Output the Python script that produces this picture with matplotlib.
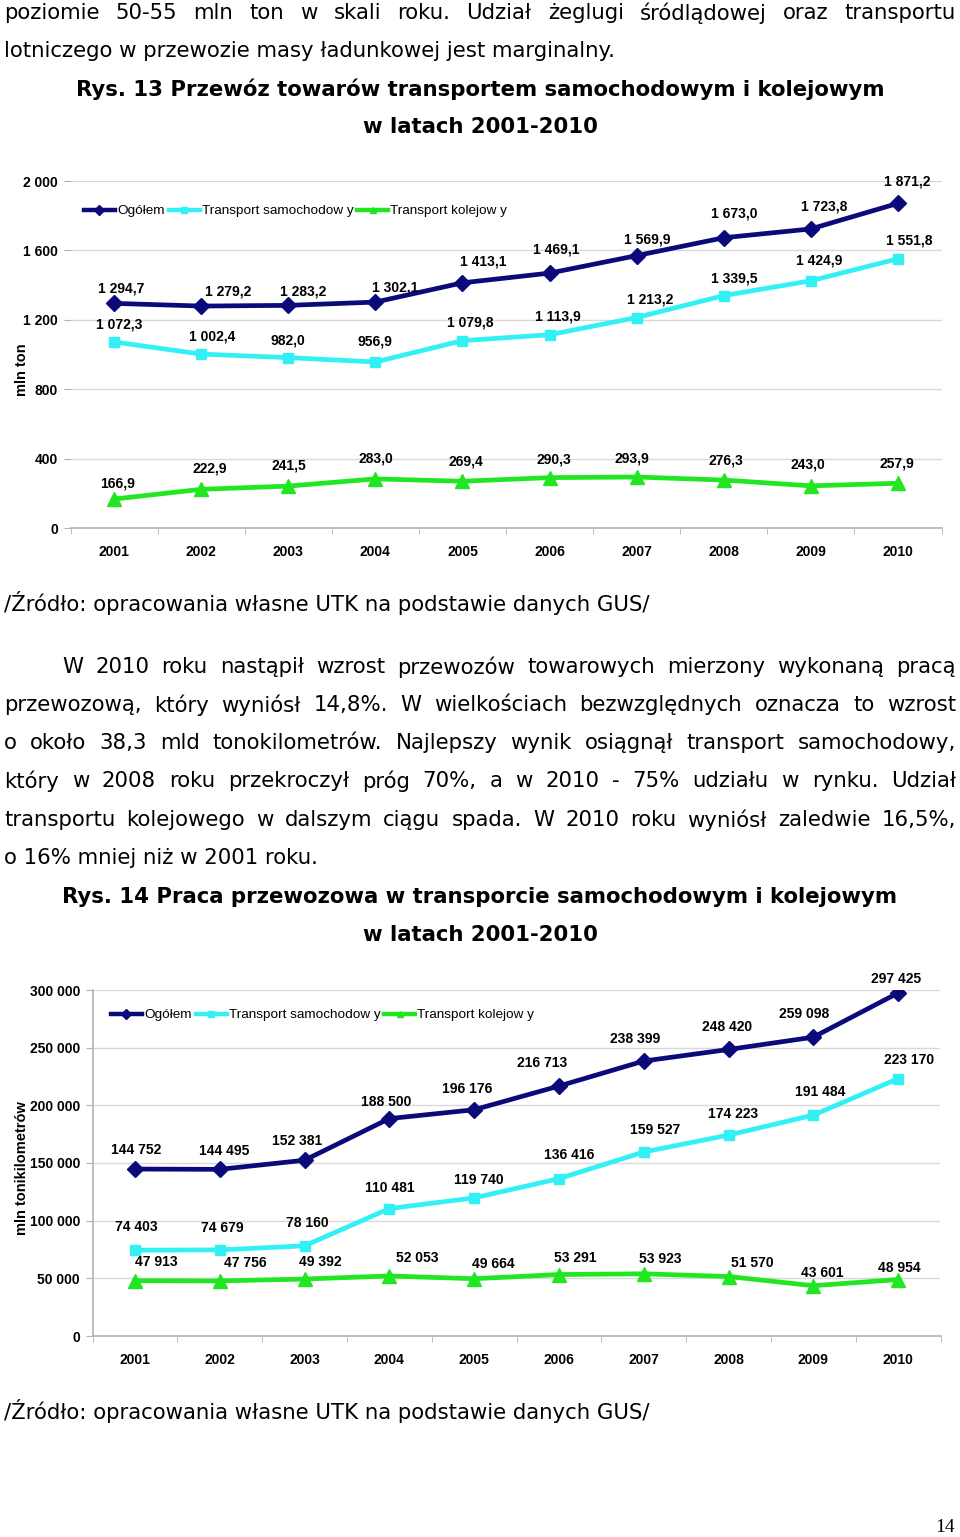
import matplotlib
matplotlib.use("Agg")
import matplotlib.pyplot as plt
from matplotlib.lines import Line2D
from matplotlib.ticker import FixedLocator

W, H = 960, 1537

# --- data -------------------------------------------------------------
years = ['2001', '2002', '2003', '2004', '2005', '2006', '2007', '2008', '2009', '2010']

# Rys. 13 - przewoz (mln ton)
mass_total = [1294.7, 1279.2, 1283.2, 1302.1, 1413.1, 1469.1, 1569.9, 1673.0, 1723.8, 1871.2]
mass_road = [1072.3, 1002.4, 982.0, 956.9, 1079.8, 1113.9, 1213.2, 1339.5, 1424.9, 1551.8]
mass_rail = [166.9, 222.9, 241.5, 283.0, 269.4, 290.3, 293.9, 276.3, 243.0, 257.9]

# Rys. 14 - praca przewozowa (mln tkm)
work_total = [144752, 144495, 152381, 188500, 196176, 216713, 238399, 248420, 259098, 297425]
work_road = [74403, 74679, 78160, 110481, 119740, 136416, 159527, 174223, 191484, 223170]
work_rail = [47913, 47756, 49392, 52053, 49664, 53291, 53923, 51570, 43601, 48954]

series_names = ['Ogółem', 'Transport samochodow y', 'Transport kolejow y']

# label offsets in pixels (dx right, dy down) - hand placed like in excel
mass_total_off = [(7, -15), (27, -15), (15, -14), (20, -15), (21, -21), (7, -24), (11, -16), (10, -24), (13, -22), (9, -22)]
mass_road_off = [(5, -17), (11, -18), (0, -17), (0, -20), (8, -18), (8, -18), (13, -18), (10, -17), (8, -20), (11, -18)]
mass_rail_off = [(4, -16), (9, -21), (1, -21), (1, -20), (3, -20), (4, -18), (-5, -19), (2, -20), (-3, -21), (-1, -20)]
work_total_off = [(1, -19), (4, -18), (-7, -19), (-3, -17), (-7, -21), (-17, -23), (-9, -22), (-1, -22), (-9, -23), (-2, -14)]
work_road_off = [(1, -23), (3, -22), (3, -23), (1, -21), (5, -18), (10, -24), (11, -22), (5, -21), (7, -23), (11, -19)]
work_rail_off = [(21, -19), (26, -18), (16, -17), (28, -18), (19, -15), (16, -17), (17, -15), (24, -14), (9, -13), (1, -12)]

# --- styles -----------------------------------------------------------
NAVY = '#0a0a7a'
CYAN = '#33f0f5'
GREEN = '#22e622'
GRID = '#d9d9d9'
AXIS = '#b3b3b3'
CHART_FONT = 'Liberation Sans'
TEXT_FONT = 'DejaVu Sans'
BODY_SIZE = 15.3
LABEL_SIZE = 10

STYLES = [
    dict(color=NAVY, marker='D', ms=8.5),
    dict(color=CYAN, marker='s', ms=7.5),
    dict(color=GREEN, marker='^', ms=10),
]


def pl_number(v, dec):
    s = f"{v:,.{dec}f}"
    return s.replace(',', ' ').replace('.', ',')


def fx(x):
    return x / W


def fy(y):
    return 1 - y / H


def justified(fig, text, y, x0, x1, **kw):
    words = text.split()
    r = fig.canvas.get_renderer()
    objs = [fig.text(0, fy(y), w, va='center', ha='left', **kw) for w in words]
    widths = [o.get_window_extent(r).width for o in objs]
    gap = (x1 - x0 - sum(widths)) / (len(words) - 1)
    x = x0
    for o, w in zip(objs, widths):
        o.set_x(fx(x))
        x += w + gap


def make_axes(fig, left, right, top, bottom):
    return fig.add_axes([fx(left), fy(bottom), fx(right - left), (bottom - top) / H])


def draw_chart(ax, data, offsets, dec, ymax, step, ylabel_pos, ylabel, legend_xy, show_left_spine):
    x = list(range(len(years)))
    for vals, st, offs in zip(data, STYLES, offsets):
        ax.plot(x, vals, color=st['color'], lw=3.4, marker=st['marker'], ms=st['ms'],
                mec=st['color'], mfc=st['color'], zorder=3, solid_joinstyle='round')
        for xi, v, (dx, dy) in zip(x, vals, offs):
            ax.annotate(pl_number(v, dec), (xi, v), xytext=(dx, -dy), textcoords='offset pixels',
                        ha='center', va='center', fontsize=LABEL_SIZE, fontweight='bold',
                        family=CHART_FONT, color='black', zorder=4)

    ax.set_xlim(-0.5, len(years) - 0.5)
    ax.set_ylim(0, ymax)
    yt = list(range(0, ymax + 1, step))
    ax.set_yticks(yt)
    ax.set_yticklabels([pl_number(v, 0) for v in yt], fontsize=LABEL_SIZE, fontweight='bold', family=CHART_FONT)
    ax.set_xticks(x)
    ax.set_xticklabels(years, fontsize=LABEL_SIZE, fontweight='bold', family=CHART_FONT)
    ax.xaxis.set_minor_locator(FixedLocator([i - 0.5 for i in range(len(years) + 1)]))
    ax.tick_params(axis='x', which='major', length=0, pad=12)
    ax.tick_params(axis='x', which='minor', length=4, color=AXIS)
    ax.tick_params(axis='y', length=5, color=AXIS, pad=4)
    ax.grid(axis='y', color=GRID, lw=1)
    ax.set_axisbelow(True)
    for s in ['top', 'right']:
        ax.spines[s].set_visible(False)
    ax.spines['bottom'].set_color(AXIS)
    ax.spines['bottom'].set_linewidth(1.2)
    ax.spines['left'].set_visible(show_left_spine)
    ax.spines['left'].set_color(AXIS)
    ax.spines['left'].set_linewidth(1.2)

    handles = [Line2D([], [], color=st['color'], lw=3.2, marker=st['marker'], ms=5,
                      mec=st['color'], mfc=st['color']) for st in STYLES]
    ax.legend(handles, series_names, ncol=3, loc='center left',
              bbox_to_anchor=legend_xy, bbox_transform=ax.figure.transFigure,
              frameon=False, handlelength=2.3, handletextpad=0.15, columnspacing=0.3,
              borderaxespad=0, borderpad=0,
              prop=dict(family=CHART_FONT, size=9.7))
    ax.figure.text(fx(ylabel_pos[0]), fy(ylabel_pos[1]), ylabel, rotation=90, ha='center', va='center',
                   fontsize=10.5, fontweight='bold', family=CHART_FONT)


fig = plt.figure(figsize=(W / 100, H / 100), dpi=100)
fig.patch.set_facecolor('white')

# --- text above chart 13 ---
justified(fig, "poziomie 50-55 mln ton w skali roku. Udział żeglugi śródlądowej oraz transportu",
          13, 4, 956, family=TEXT_FONT, fontsize=BODY_SIZE)
fig.text(fx(4), fy(51), "lotniczego w przewozie masy ładunkowej jest marginalny.", va='center',
         family=TEXT_FONT, fontsize=BODY_SIZE)
fig.text(0.5, fy(89), "Rys. 13 Przewóz towarów transportem samochodowym i kolejowym", ha='center',
         va='center', family=TEXT_FONT, fontsize=BODY_SIZE, fontweight='bold')
fig.text(0.5, fy(127), "w latach 2001-2010", ha='center', va='center', family=TEXT_FONT,
         fontsize=BODY_SIZE, fontweight='bold')

# --- chart 13 ---
ax1 = make_axes(fig, 70.5, 941.5, 181, 528)
draw_chart(ax1, [mass_total, mass_road, mass_rail],
           [mass_total_off, mass_road_off, mass_rail_off], 1, 2000, 400,
           (22, 370), 'mln ton', (fx(84), fy(211)), False)

fig.text(fx(4), fy(603), "/Źródło: opracowania własne UTK na podstawie danych GUS/", va='center',
         family=TEXT_FONT, fontsize=BODY_SIZE)

# --- paragraph ---
para = [
    ("W 2010 roku nastąpił wzrost przewozów towarowych mierzony wykonaną pracą", 667, 62),
    ("przewozową, który wyniósł 14,8%. W wielkościach bezwzględnych oznacza to wzrost", 705, 4),
    ("o około 38,3 mld tonokilometrów. Najlepszy wynik osiągnął transport samochodowy,", 743, 4),
    ("który w 2008 roku przekroczył próg 70%, a w 2010 - 75% udziału w rynku. Udział", 781, 4),
    ("transportu kolejowego w dalszym ciągu spada. W 2010 roku wyniósł zaledwie 16,5%,", 820, 4),
]
for line, y, x0 in para:
    justified(fig, line, y, x0, 956, family=TEXT_FONT, fontsize=BODY_SIZE)
fig.text(fx(4), fy(858), "o 16% mniej niż w 2001 roku.", va='center', family=TEXT_FONT, fontsize=BODY_SIZE)

fig.text(0.5, fy(897), "Rys. 14 Praca przewozowa w transporcie samochodowym i kolejowym", ha='center',
         va='center', family=TEXT_FONT, fontsize=BODY_SIZE, fontweight='bold')
fig.text(0.5, fy(935), "w latach 2001-2010", ha='center', va='center', family=TEXT_FONT,
         fontsize=BODY_SIZE, fontweight='bold')

# --- chart 14 ---
ax2 = make_axes(fig, 92.5, 940.5, 990, 1336)
draw_chart(ax2, [work_total, work_road, work_rail],
           [work_total_off, work_road_off, work_rail_off], 0, 300000, 50000,
           (22, 1168), 'mln tonikilometrów', (fx(111), fy(1015)), True)

fig.text(fx(4), fy(1411), "/Źródło: opracowania własne UTK na podstawie danych GUS/", va='center',
         family=TEXT_FONT, fontsize=BODY_SIZE)
fig.text(fx(955), fy(1527), "14", ha='right', va='center', family='Liberation Serif', fontsize=14)

fig.savefig('out.png', dpi=100, facecolor='white')
